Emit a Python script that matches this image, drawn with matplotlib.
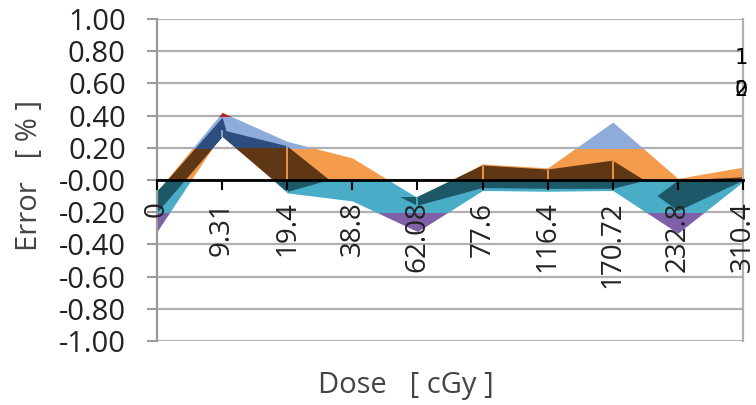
import numpy as np
import matplotlib
matplotlib.use('Agg')
import matplotlib.pyplot as plt
from matplotlib.patches import Rectangle
from matplotlib.transforms import blended_transform_factory

plt.rcParams['font.family'] = ['Open Sans', 'DejaVu Sans']

# categories (dose, cGy)
doses = ['0', '9.31', '19.4', '38.8', '62.08', '77.6', '116.4', '170.72', '232.8', '310.4']

# collapsed 3-D surface (error in %)
# lit faces: lower / upper edge per dose
face_lo = [-0.32, 0.29, -0.08, -0.13, -0.32, -0.065, -0.07, -0.065, -0.33, -0.01]
face_hi = [-0.07, 0.42, 0.24, 0.137, -0.11, 0.10, 0.075, 0.36, 0.01, 0.08]
# shaded faces (hi < lo means no shaded face there)
shade_a_lo = [-0.20, 0.27, -0.075, 0.04, -0.16, -0.05, -0.055, -0.055, 0.045, 0.05]
shade_a_hi = [-0.07, 0.31, 0.21, -0.113, -0.105, 0.09, 0.065, 0.12, -0.13, -0.10]
shade_b_lo = [0.10, 0.10, 0.10, 0.10, 0.10, 0.10, 0.10, 0.10, -0.19, 0.0]
shade_b_hi = [-0.30, -0.30, -0.30, -0.30, -0.30, -0.30, -0.30, -0.30, 0.0, 0.02]
shade_c_lo = [-0.20, 0.27, 1.0, 1.0, 1.0, 1.0, 1.0, 1.0, 1.0, 1.0]
shade_c_hi = [-0.07, 0.39, -1.0, -1.0, -1.0, -1.0, -1.0, -1.0, -1.0, -1.0]

# surface colour bands
band_edges = [-1.0, -0.2, 0.0, 0.2, 0.4, 1.0]
face_colors = ['#7f5fa8', '#4aadc7', '#f59b4c', '#8fabd9', '#b5262c']
shade_colors = ['#4a3764', '#1d5868', '#5f3714', '#2c4d7e', '#8b1e1e']

depth_labels = ['1', '0', '2']

x = np.arange(len(doses))

fig = plt.figure(figsize=(7.56, 4.05), dpi=100)
ax = fig.add_axes([157/756, 1-341/405, 586/756, 322/405])


def band_clip(artist, k):
    r = Rectangle((x[0], band_edges[k]), x[-1]-x[0], band_edges[k+1]-band_edges[k],
                  transform=ax.transData)
    artist.set_clip_path(r)


def draw_layer(lo, hi, colors, edges=False):
    lo = np.array(lo)
    hi = np.array(hi)
    for k, c in enumerate(colors):
        coll = ax.fill_between(x, lo, hi, where=hi >= lo, interpolate=True,
                               color=c, lw=0, zorder=2)
        band_clip(coll, k)
    if edges:
        # lit edges of the shaded faces at each dose
        m = hi > lo
        for k, c in enumerate(face_colors):
            ln = ax.vlines(x[m][1:], lo[m][1:], hi[m][1:], color=c, lw=1.3, zorder=2.2)
            band_clip(ln, k)


draw_layer(face_lo, face_hi, face_colors)
draw_layer(shade_a_lo, shade_a_hi, shade_colors, edges=True)
draw_layer(shade_b_lo, shade_b_hi, shade_colors)
draw_layer(shade_c_lo, shade_c_hi, shade_colors)

ax.set_xlim(0, len(doses)-1)
ax.set_ylim(-1, 1)
ax.set_yticks(np.arange(-1, 1.01, 0.2))
ax.set_yticklabels(['%.2f' % v for v in np.arange(-1, 1.01, 0.2)])
ax.set_xticks(x)
ax.set_xticklabels(doses)

ax.set_axisbelow(True)
ax.xaxis.set_zorder(3)
ax.yaxis.grid(True, color='#b0b0b0', lw=1.6)
ax.spines['bottom'].set_position(('data', 0))
ax.spines['bottom'].set_color('black')
ax.spines['bottom'].set_linewidth(2)
ax.spines['bottom'].set_zorder(3)
ax.spines['top'].set_visible(False)
ax.spines['left'].set_color('#9a9a9a')
ax.spines['left'].set_linewidth(1.6)
ax.spines['right'].set_color('#b0b0b0')
ax.spines['right'].set_linewidth(1.6)

ax.tick_params(axis='y', direction='out', length=7.5, width=1.5, color='#9a9a9a',
               labelsize=21, pad=15, labelcolor='#222222')
ax.tick_params(axis='x', direction='out', length=7.5, width=1.5, color='black',
               labelsize=20, pad=8, labelcolor='#222222', labelrotation=90)

tr = blended_transform_factory(ax.transAxes, ax.transData)
ax.text(0.997, 0.76, depth_labels[0], transform=tr, ha='center', va='center',
        fontsize=15, family='DejaVu Sans', color='black')
for lab in depth_labels[1:]:
    ax.text(0.997, 0.56, lab, transform=tr, ha='center', va='center',
            fontsize=15, family='DejaVu Sans', color='black')

fig.text(30/756, 1-175/405, 'Error   [ % ]', rotation=90, ha='center', va='center',
         fontsize=21, color='#444444')
fig.text(406/756, 1-385/405, 'Dose   [ cGy ]', ha='center', va='center',
         fontsize=21, color='#444444')

fig.savefig('out.png', dpi=100)
